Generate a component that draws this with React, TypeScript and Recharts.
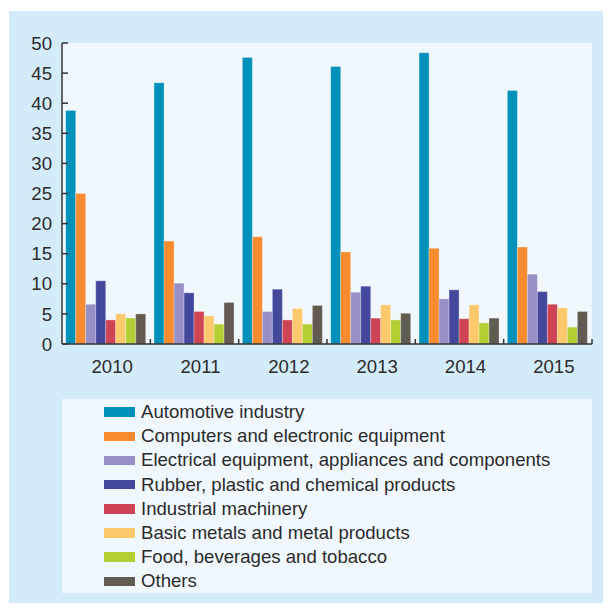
import React from 'react';
import { BarChart, Bar, XAxis, YAxis, CartesianGrid, Legend } from 'recharts';

const categories = ['2010', '2011', '2012', '2013', '2014', '2015'];
const automotive = [38.8, 43.4, 47.6, 46.1, 48.4, 42.1];
const computers = [25.0, 17.1, 17.8, 15.3, 15.9, 16.1];
const electrical = [6.6, 10.1, 5.4, 8.6, 7.5, 11.6];
const rubber = [10.5, 8.5, 9.1, 9.6, 9.0, 8.7];
const machinery = [4.0, 5.4, 4.0, 4.3, 4.2, 6.6];
const metals = [5.0, 4.65, 5.9, 6.5, 6.5, 6.0];
const food = [4.3, 3.3, 3.3, 4.0, 3.5, 2.8];
const others = [5.0, 6.9, 6.4, 5.1, 4.3, 5.4];
const yTicks = [0, 5, 10, 15, 20, 25, 30, 35, 40, 45, 50];

const series = [
  { key: 'automotive', name: 'Automotive industry', values: automotive, color: '#0091ba' },
  { key: 'computers', name: 'Computers and electronic equipment', values: computers, color: '#f68b2f' },
  { key: 'electrical', name: 'Electrical equipment, appliances and components', values: electrical, color: '#9690c6' },
  { key: 'rubber', name: 'Rubber, plastic and chemical products', values: rubber, color: '#43489c' },
  { key: 'machinery', name: 'Industrial machinery', values: machinery, color: '#cf4455' },
  { key: 'metals', name: 'Basic metals and metal products', values: metals, color: '#fec86d' },
  { key: 'food', name: 'Food, beverages and tobacco', values: food, color: '#b1d034' },
  { key: 'others', name: 'Others', values: others, color: '#625b51' },
];

const data = categories.map((c, i) => {
  const row: Record<string, any> = { year: c };
  series.forEach((s) => {
    row[s.key] = s.values[i];
  });
  return row;
});

const FONT = '"Liberation Sans", Arial, sans-serif';
const TEXT = '#2b2b2b';
const AXIS = '#333333';

const XTick = (props: any) => {
  const { x, y, payload, index } = props;
  const half = payload && typeof payload.offset === 'number' && payload.offset > 0 ? payload.offset : 44.17;
  const last = index === categories.length - 1;
  return (
    <g>
      {index > 0 && <line x1={x - half} x2={x - half} y1={y} y2={y - 5} stroke={AXIS} strokeWidth={1.5} />}
      {last && <line x1={x + half} x2={x + half} y1={y} y2={y - 5} stroke={AXIS} strokeWidth={1.5} />}
      <text x={x + 6} y={y + 28.5} textAnchor="middle" fill={TEXT} fontSize={18.6} fontFamily={FONT}>
        {payload.value}
      </text>
    </g>
  );
};

const order = series.map((s) => s.name);

const LegendContent = (props: any) => {
  const payload = [...(props.payload || [])].sort(
    (a: any, b: any) => order.indexOf(a.value) - order.indexOf(b.value)
  );
  return (
    <div style={{ paddingTop: 1, fontFamily: FONT, fontSize: 18.6, color: TEXT }}>
      {payload.map((p: any) => (
        <div key={p.value} style={{ height: 24.2, display: 'flex', alignItems: 'center' }}>
          <div style={{ marginLeft: 42, width: 31, height: 9.5, background: p.color }} />
          <div style={{ marginLeft: 6, whiteSpace: 'nowrap', lineHeight: '24px' }}>{p.value}</div>
        </div>
      ))}
    </div>
  );
};

export default function App() {
  return (
    <div style={{ position: 'absolute', left: 0, top: 0, width: 611, height: 610, background: '#ffffff' }}>
      <div style={{ position: 'absolute', left: 9, top: 11, width: 594, height: 592, background: '#d4ecfa' }} />
      <div style={{ position: 'absolute', left: 0, top: 0 }}>
        <BarChart
          width={611}
          height={610}
          data={data}
          margin={{ top: 43, right: 19, bottom: 236, left: 0 }}
          barGap={0}
          barCategoryGap="4.2%"
        >
          <CartesianGrid horizontal={false} vertical={false} fill="#f0f8fe" />
          <XAxis
            dataKey="year"
            tickLine={false}
            tickSize={0}
            tickMargin={0}
            height={30}
            axisLine={{ stroke: AXIS, strokeWidth: 1.5 }}
            tick={<XTick />}
            interval={0}
          />
          <YAxis
            width={62}
            domain={[0, 50]}
            ticks={yTicks}
            interval={0}
            tickSize={-6}
            tickMargin={16}
            axisLine={{ stroke: AXIS, strokeWidth: 1.5 }}
            tickLine={{ stroke: AXIS, strokeWidth: 1.5 }}
            tick={{ fill: TEXT, fontSize: 18.6, fontFamily: FONT }}
          />
          <Legend
            layout="horizontal"
            verticalAlign="middle"
            align="center"
            content={<LegendContent />}
            wrapperStyle={{ left: 62, top: 399, width: 530, height: 194, background: '#f0f8fe' }}
          />
          {series.map((s) => (
            <Bar
              key={s.key}
              dataKey={s.key}
              name={s.name}
              fill={s.color}
              stroke="#ffffff"
              strokeOpacity={0.35}
              strokeWidth={0.8}
              isAnimationActive={false}
            />
          ))}
        </BarChart>
      </div>
    </div>
  );
}
